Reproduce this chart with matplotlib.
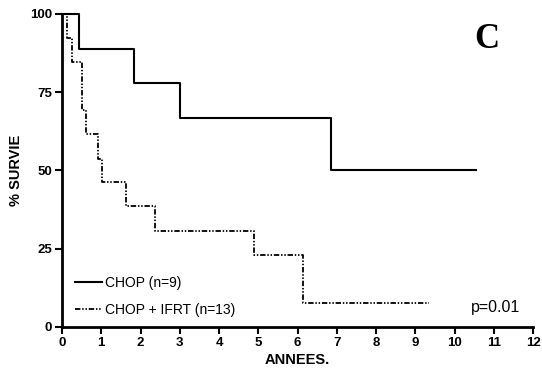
import numpy as np
import matplotlib.pyplot as plt

plt.rcParams['font.family'] = ['Liberation Sans', 'DejaVu Sans']

# Kaplan-Meier steps: time of each drop (years) and survival after it (%)
chop_t = [0.0, 0.43, 1.84, 3.01, 6.85, 10.54]
chop_s = [100, 88.9, 77.8, 66.7, 50.0, 50.0]
ifrt_t = [0.0, 0.12, 0.16, 0.26, 0.50, 0.61, 0.91, 1.01, 1.63, 2.37, 4.90, 6.15, 9.36]
ifrt_s = [100, 92.3, 92.3, 84.6, 69.2, 61.5, 53.8, 46.2, 38.5, 30.8, 23.1, 7.7, 7.7]

xticks = list(range(0, 13))
yticks = [0, 25, 50, 75, 100]

fig = plt.figure(figsize=(5.42, 3.74), dpi=100, facecolor='white')
ax = fig.add_axes([0.1144, 0.1257, 0.869, 0.837])

ax.step(chop_t, chop_s, where='post', color='black', lw=1.5,
        label='CHOP (n=9)', clip_on=False)
ax.step(ifrt_t, ifrt_s, where='post', color='black', lw=1.3,
        dashes=(3, 1, 0.8, 1, 0.8, 1), label='CHOP + IFRT (n=13)', clip_on=False)

ax.set_xlim(0, 12)
ax.set_ylim(0, 100)
ax.set_xticks(xticks)
ax.set_yticks(yticks)
for lab in ax.get_xticklabels() + ax.get_yticklabels():
    lab.set_fontweight('bold')
ax.tick_params(axis='both', direction='out', length=5, width=1.5,
               labelsize=9.5, pad=2)
for side in ['top', 'right']:
    ax.spines[side].set_visible(False)
for side in ['left', 'bottom']:
    ax.spines[side].set_linewidth(2)

ax.set_xlabel('ANNEES.', fontsize=10.5, fontweight='bold', labelpad=3)
ax.set_ylabel('% SURVIE', fontsize=10.5, fontweight='bold', labelpad=5)

ax.legend(loc='lower left', bbox_to_anchor=(0.0, -0.007), frameon=False,
          fontsize=10, handlelength=2.0, handletextpad=0.2, labelspacing=0.9)

fig.text(487 / 542, 1 - 40 / 374, 'C', fontsize=25, fontweight='bold',
         family='Liberation Serif', ha='center', va='center')
fig.text(496 / 542, 1 - 312 / 374, 'p=0.01', fontsize=11.5, ha='center',
         va='baseline')

fig.savefig('out.png', dpi=100)
